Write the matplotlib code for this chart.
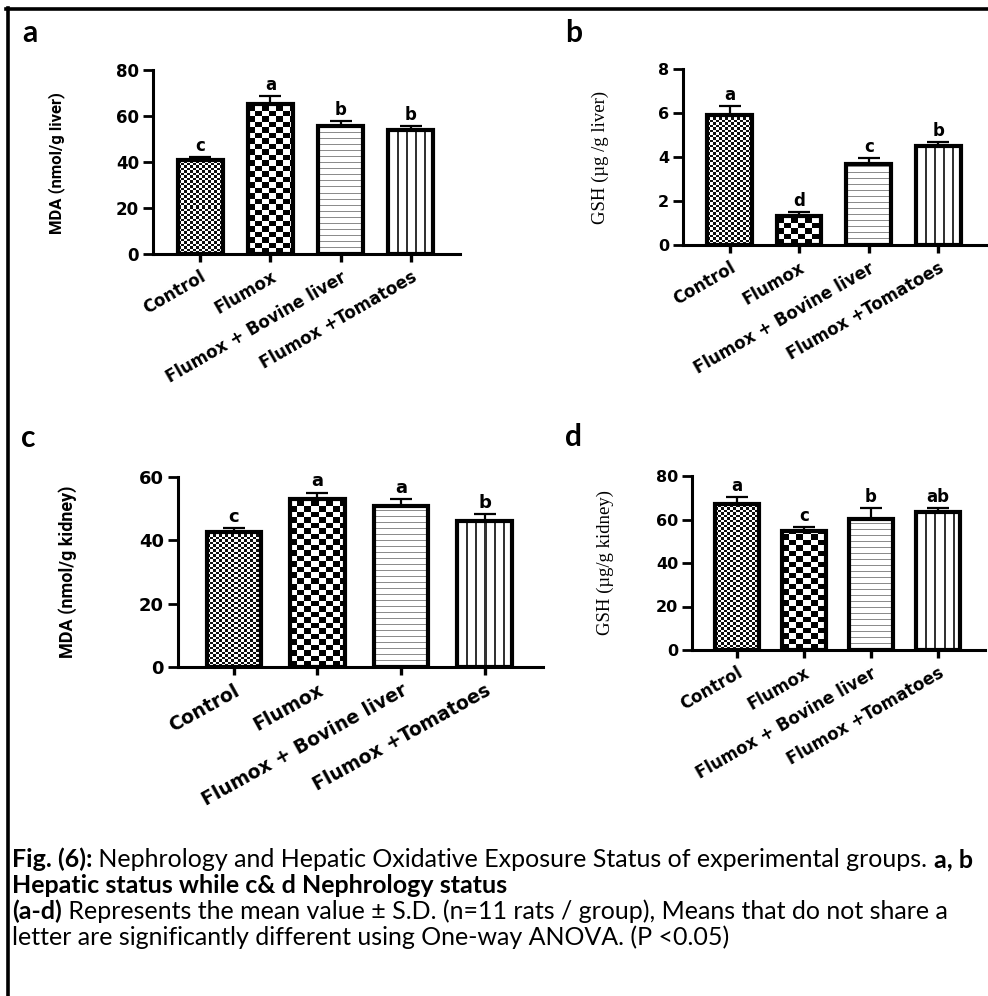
import numpy as np
import matplotlib
matplotlib.use("Agg")
import matplotlib.pyplot as plt
from matplotlib import font_manager
from matplotlib.lines import Line2D

# groups and measurements (mean, S.D., significance letters)
groups = ['Control', 'Flumox', 'Flumox + Bovine liver', 'Flumox +Tomatoes']

mda_liver = [41.0, 65.0, 55.8, 53.8]
mda_liver_sd = [1.2, 3.8, 2.2, 2.0]
mda_liver_sig = ['c', 'a', 'b', 'b']

gsh_liver = [5.9, 1.3, 3.67, 4.52]
gsh_liver_sd = [0.43, 0.2, 0.28, 0.18]
gsh_liver_sig = ['a', 'd', 'c', 'b']

mda_kidney = [42.5, 53.1, 51.0, 46.2]
mda_kidney_sd = [1.3, 2.0, 2.1, 2.1]
mda_kidney_sig = ['c', 'a', 'a', 'b']

gsh_kidney = [67.1, 54.7, 60.1, 63.4]
gsh_kidney_sd = [3.4, 1.9, 5.0, 1.7]
gsh_kidney_sig = ['a', 'c', 'b', 'ab']

W, H = 988, 996
fig = plt.figure(figsize=(W / 100, H / 100), dpi=100)

names = {f.name for f in font_manager.fontManager.ttflist}
narrow = 'Liberation Sans Narrow' if 'Liberation Sans Narrow' in names else 'Roboto'
serif = 'Liberation Serif' if 'Liberation Serif' in names else 'DejaVu Serif'
capfont = 'Lato' if 'Lato' in names else 'DejaVu Sans'


def rect(l, t, r, b):
    return [l / W, 1 - b / H, (r - l) / W, (b - t) / H]


def pattern_img(kind, nx, ny):
    yy, xx = np.mgrid[0:ny, 0:nx]
    img = np.ones((ny, nx, 3))
    if kind == 'fine':
        dark = ((np.floor(xx / 3.0) + np.floor(yy / 2.5)) % 2) == 0
        img[dark] = 0.05
    elif kind == 'check':
        dark = ((np.floor(xx / 7.0) + np.floor(yy / 5.5)) % 2) == 0
        img[dark] = 0.0
    elif kind == 'hline':
        img[(yy % 6) == 0] = 0.55
    elif kind == 'vline':
        img[(xx % 9) < 2] = 0.2
    return img


kinds = ['fine', 'check', 'hline', 'vline']


def panel(box, vals, sds, sig, ymax, ystep, width, ysize, xsize, letter_size, angle):
    ax = fig.add_axes(rect(*box))
    x = np.arange(len(groups))
    xl = (-0.67, 3.70)
    ax.set_xlim(*xl)
    ax.set_ylim(0, ymax)
    bars = ax.bar(x, vals, width, facecolor='none', edgecolor='black',
                  linewidth=3.0, zorder=3)
    for b, k in zip(bars, kinds):
        x0, y0 = b.get_x(), b.get_y()
        x1, y1 = x0 + b.get_width(), y0 + b.get_height()
        (p0, q0), (p1, q1) = ax.transData.transform([(x0, y0), (x1, y1)])
        nx, ny = max(int(round(p1 - p0)), 1), max(int(round(q1 - q0)), 1)
        ax.imshow(pattern_img(k, nx, ny), extent=(x0, x1, y0, y1), origin='lower',
                  aspect='auto', interpolation='nearest', zorder=1)
    ax.errorbar(x, vals, yerr=[np.zeros(len(vals)), sds], fmt='none', ecolor='black',
                elinewidth=1.6, capsize=8, capthick=1.6, zorder=4)
    for xi, v, s, t in zip(x, vals, sds, sig):
        ax.annotate(t, (xi, v + s), xytext=(0, 1.5), textcoords='offset points',
                    ha='center', va='bottom', fontsize=letter_size, fontweight='bold')
    ax.set_xlim(*xl)
    ax.set_ylim(0, ymax)
    ax.set_yticks(np.arange(0, ymax + ystep / 2, ystep))
    ax.set_xticks(x)
    ax.set_xticklabels(groups, rotation=angle, ha='right', va='top',
                       rotation_mode='anchor', fontsize=xsize, fontweight='bold')
    for lab in ax.get_yticklabels():
        lab.set_fontweight('bold')
        lab.set_fontsize(ysize)
    for s in ['top', 'right']:
        ax.spines[s].set_visible(False)
    for s in ['left', 'bottom']:
        ax.spines[s].set_linewidth(2.2)
    ax.tick_params(axis='y', length=7, width=2.0, pad=3)
    ax.tick_params(axis='x', length=6, width=2.4, pad=4)
    ax.patch.set_alpha(0)
    return ax


panel((153, 70, 460, 254), mda_liver, mda_liver_sd, mda_liver_sig, 80, 20,
      0.64, 12, 12, 12, 30)
panel((683, 69, 987, 245), gsh_liver, gsh_liver_sd, gsh_liver_sig, 8, 2,
      0.64, 11.5, 12, 12, 30)
panel((178, 477, 543, 667), mda_kidney, mda_kidney_sd, mda_kidney_sig, 60, 20,
      0.65, 13, 13.5, 13, 29)
panel((692, 476, 985, 650), gsh_kidney, gsh_kidney_sd, gsh_kidney_sig, 80, 20,
      0.66, 11.5, 12, 12, 30)

# y-axis titles
fig.text(57 / W, 1 - 163 / H, 'MDA (nmol/g liver)', rotation=90, ha='center', va='center',
         fontsize=12, family=narrow, fontweight='bold')
fig.text(68 / W, 1 - 572 / H, 'MDA (nmol/g kidney)', rotation=90, ha='center', va='center',
         fontsize=13, family=narrow, fontweight='bold')
fig.text(600 / W, 1 - 157 / H, 'GSH (µg /g liver)', rotation=90, ha='center', va='center',
         fontsize=13.5, family=serif)
fig.text(605 / W, 1 - 562 / H, 'GSH (µg/g kidney)', rotation=90, ha='center', va='center',
         fontsize=13.5, family=serif)

# caption, sized so the third line spans the page width
renderer = fig.canvas.get_renderer()
lines = [
    [('Fig. (6):', 'bold'), (' Nephrology and Hepatic Oxidative Exposure Status of experimental groups. ', 'normal'),
     ('a, b', 'bold')],
    [('Hepatic status while c& d Nephrology status', 'bold')],
    [('(a-d)', 'bold'), (' Represents the mean value ± S.D. (n=11 rats / group), Means that do not share a', 'normal')],
    [('letter are significantly different using One-way ANOVA. (P <0.05)', 'normal')],
]


def draw_line(parts, x, y, size):
    texts = []
    for s, w in parts:
        t = fig.text(x / W, 1 - y / H, s, fontsize=size, fontweight=w, family=capfont,
                     ha='left', va='baseline')
        bb = t.get_window_extent(renderer)
        x += bb.width
        texts.append(t)
    return x, texts


base = 14.0
end, probe = draw_line(lines[2], 12, 919, base)
for t in probe:
    t.remove()
size = base * (950 - 12) / (end - 12)
for parts, yb in zip(lines, [867, 893, 919, 945]):
    draw_line(parts, 12, yb, size)

# panel letters
for lt, px, py in [('a', 30, 33), ('b', 574, 33), ('c', 28, 438), ('d', 574, 437)]:
    fig.text(px / W, 1 - py / H, lt, fontsize=size * 1.2, fontweight='bold', family=capfont,
             ha='center', va='center')

# frame lines along the top and left edges
fig.add_artist(Line2D([6 / W, 1], [1 - 9.5 / H, 1 - 9.5 / H], color='black', lw=2.6,
                      transform=fig.transFigure))
fig.add_artist(Line2D([7.5 / W, 7.5 / W], [0, 1 - 8 / H], color='black', lw=2.6,
                      transform=fig.transFigure))

fig.savefig('out.png', dpi=100, facecolor='white')
